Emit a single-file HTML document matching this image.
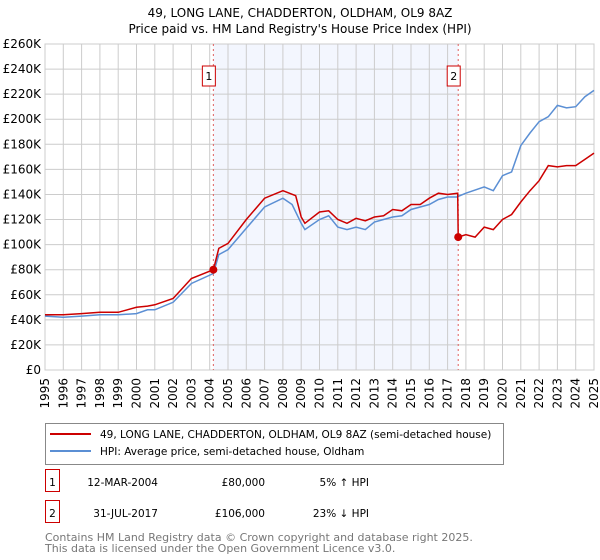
<!DOCTYPE html>
<html><head><meta charset="utf-8">
<style>
body{margin:0;background:#fff;font-family:"DejaVu Sans","Liberation Sans",sans-serif;}
#wrap{position:relative;width:600px;height:560px;overflow:hidden;}
svg text{font-family:"DejaVu Sans","Liberation Sans",sans-serif;}
</style></head>
<body>
<div id="wrap">
<svg id="chart" width="600" height="560"></svg>
</div>
<script>
const hpiYears=[1995,1996,1997,1998,1999,2000,2000.6,2001,2002,2003,2004.2,2004.5,2005,2006,2007,2008,2008.5,2009,2009.2,2010,2010.5,2011,2011.5,2012,2012.5,2013,2013.5,2014,2014.5,2015,2015.5,2016,2016.5,2017,2017.5,2018,2019,2019.5,2020,2020.5,2021,2021.5,2022,2022.5,2023,2023.5,2024,2024.5,2025];
const hpiValues=[43,42,43,44,44,45,48,48,54,69,77,92,96,113,130,137,132,117,112,120,123,114,112,114,112,118,120,122,123,128,130,132,136,138,138,141,146,143,155,158,179,189,198,202,211,209,210,218,223];
const priceYears=[1995,1996,1997,1998,1999,2000,2000.6,2001,2002,2003,2004.2,2004.5,2005,2006,2007,2008,2008.7,2009,2009.2,2010,2010.5,2011,2011.5,2012,2012.5,2013,2013.5,2014,2014.5,2015,2015.5,2016,2016.5,2017,2017.55,2017.58,2018,2018.5,2019,2019.5,2020,2020.5,2021,2021.5,2022,2022.5,2023,2023.5,2024,2024.5,2025];
const priceValues=[44,44,45,46,46,50,51,52,57,73,80,97,101,120,137,143,139,122,117,126,127,120,117,121,119,122,123,128,127,132,132,137,141,140,141,106,108,106,114,112,120,124,134,143,151,163,162,163,163,168,173];
const yTicks=[0,20,40,60,80,100,120,140,160,180,200,220,240,260];
const xTicks=[1995,1996,1997,1998,1999,2000,2001,2002,2003,2004,2005,2006,2007,2008,2009,2010,2011,2012,2013,2014,2015,2016,2017,2018,2019,2020,2021,2022,2023,2024,2025];
const sales=[{n:"1",year:2004.2,value:80},{n:"2",year:2017.58,value:106}];

const L=45,R=594,T=44,B=370;
const X=y=>L+(y-1995)/30*(R-L);
const Y=v=>B-v/260*(B-T);
const NS="http://www.w3.org/2000/svg";
const svg=document.getElementById('chart');
function mk(tag,attrs,parent){const e=document.createElementNS(NS,tag);for(const k in attrs)e.setAttribute(k,attrs[k]);(parent||svg).appendChild(e);return e;}

const sh=mk('rect',{x:X(sales[0].year),y:T,width:X(sales[1].year)-X(sales[0].year),height:B-T,fill:'#f3f6fe'});


yTicks.forEach(v=>{
  const g=mk('line',{x1:L,x2:R,y1:Y(v),y2:Y(v),stroke:'#cccccc','stroke-width':1});
  
  
  const t=mk('text',{x:L-4,y:Y(v)+4,'text-anchor':'end','font-size':12,fill:'#000'});
  t.textContent='£'+(v===0?'0':v+'K');
  
  
});
xTicks.forEach(yr=>{
  const g=mk('line',{x1:X(yr),x2:X(yr),y1:T,y2:B,stroke:'#cccccc','stroke-width':1});
  
  
  const t=mk('text',{x:0,y:0,'text-anchor':'end','font-size':12,fill:'#000',transform:`translate(${X(yr)+4},${B+8}) rotate(-90)`});
  t.textContent=yr;
  
  
});
const ax=mk('rect',{x:L,y:T,width:R-L,height:B-T,fill:'none',stroke:'#cccccc'});


sales.forEach(s=>{
  const l=mk('line',{x1:X(s.year),x2:X(s.year),y1:T,y2:B,stroke:'#e06060','stroke-width':1,'stroke-dasharray':'2,3'});
  
  
  const bx=mk('rect',{x:X(s.year)-11,y:66,width:13,height:20,fill:'#fff',stroke:'#cc0000'});
  
  
  const t=mk('text',{x:X(s.year)-4.5,y:80,'text-anchor':'middle','font-size':11});
  t.textContent=s.n;
  
  
});
function path(xs,vs){return xs.map((x,i)=>(i?'L':'M')+X(x).toFixed(1)+','+Y(vs[i]).toFixed(1)).join('');}
const hp=mk('path',{d:path(hpiYears,hpiValues),fill:'none',stroke:'#5b8fd4','stroke-width':1.5});


const pp=mk('path',{d:path(priceYears,priceValues),fill:'none',stroke:'#cc0000','stroke-width':1.5});


sales.forEach(s=>{
  const c=mk('circle',{cx:X(s.year),cy:Y(s.value),r:4,fill:'#cc0000'});
  
  
});
[["49, LONG LANE, CHADDERTON, OLDHAM, OL9 8AZ",17],["Price paid vs. HM Land Registry's House Price Index (HPI)",33]].forEach((a,i)=>{
  const t=mk('text',{x:300,y:a[1],'text-anchor':'middle','font-size':12});
  t.textContent=a[0];
  
  
});
const lg=mk('rect',{x:45.5,y:423.5,width:458,height:41,fill:'#fff',stroke:'#888'});


[["#cc0000","49, LONG LANE, CHADDERTON, OLDHAM, OL9 8AZ (semi-detached house)",434,'legend-entry-price'],["#5b8fd4","HPI: Average price, semi-detached house, Oldham",451,'legend-entry-hpi']].forEach(e=>{
  const l=mk('line',{x1:50,x2:91,y1:e[2],y2:e[2],stroke:e[0],'stroke-width':2});
  
  
  const t=mk('text',{x:100,y:e[2]+4,'font-size':10.5});
  t.textContent=e[1];
  
  
});
[["1","12-MAR-2004","£80,000","5% ↑ HPI",482],["2","31-JUL-2017","£106,000","23% ↓ HPI",513]].forEach(r=>{
  const b=mk('rect',{x:45.5,y:r[4]-12.5,width:14,height:22,fill:'#fff',stroke:'#cc0000'});
  
  
  const cols=[[52.5,'middle',r[0]],[158,'end',r[1]],[265,'end',r[2]],[369,'end',r[3]]];
  cols.forEach((c,i)=>{
    const t=mk('text',{x:c[0],y:r[4]+4,'text-anchor':c[1],'font-size':10.5});
    t.textContent=c[2];
    
    
  });
});
[["Contains HM Land Registry data © Crown copyright and database right 2025.",541],["This data is licensed under the Open Government Licence v3.0.",552]].forEach((a,i)=>{
  const t=mk('text',{x:45,y:a[1],'font-size':11,fill:'#777'});
  t.textContent=a[0];
  
  
});
</script>
</body></html>
